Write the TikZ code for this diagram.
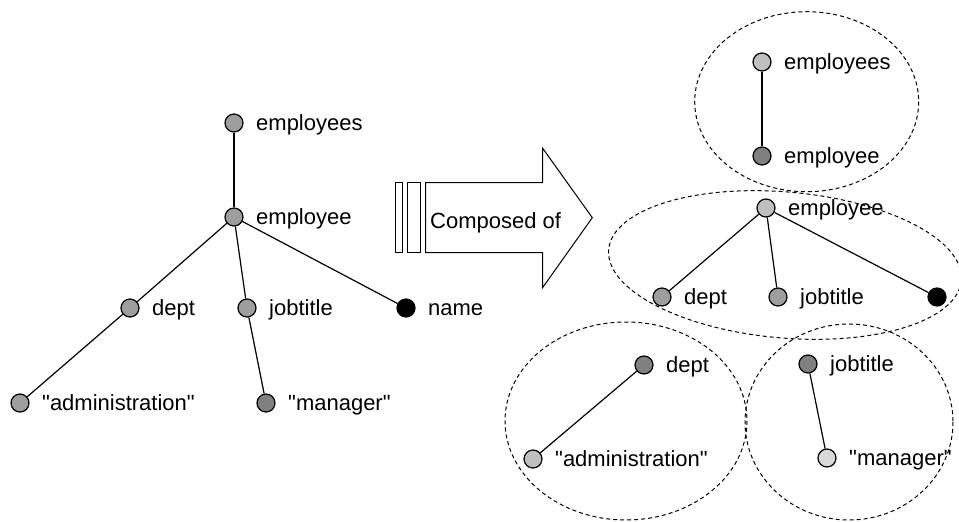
\documentclass[tikz,border=0pt]{standalone}
\usepackage{fontspec}
\setmainfont{Liberation Sans}
\newfontfamily\plainsans{Liberation Sans}
\definecolor{fA}{gray}{0.62}
\definecolor{fB}{gray}{0.50}
\definecolor{fC}{gray}{0.75}
\begin{document}
\begin{tikzpicture}[x=1pt,y=-1pt,
  dot/.style={circle,draw,line width=1.2pt,minimum size=18pt,inner sep=0pt},
  lab/.style={anchor=base west,inner sep=0pt,font=\fontsize{22}{26}\plainsans},
  link/.style={line width=1.2pt},
  grp/.style={dash pattern=on 4pt off 3pt,line width=1pt}]
\useasboundingbox (0,0) rectangle (959,522);

% ---------- left tree ----------
\node[dot,fill=fA] (lemps) at (234,123) {};
\node[dot,fill=fA] (lemp) at (234,217) {};
\node[dot,fill=fA] (ldept) at (130,308) {};
\node[dot,fill=fA] (ljob) at (247,308) {};
\node[dot,fill=black] (lname) at (406,308) {};
\node[dot,fill=fA] (ladm) at (20,403) {};
\node[dot,fill=fB] (lman) at (266,403) {};
\draw[link] (lemps) -- (lemp);
\draw[link] (lemp) -- (ldept);
\draw[link] (lemp) -- (ljob);
\draw[link] (lemp) -- (lname);
\draw[link] (ldept) -- (ladm);
\draw[link] (ljob) -- (lman);
\node[lab] (tlemps) at ([shift={(22,7)}]lemps.center) {employees};
\node[lab] (tlemp) at ([shift={(22,7)}]lemp.center) {employee};
\node[lab] (tldept) at ([shift={(22,7)}]ldept.center) {dept};
\node[lab] (tljob) at ([shift={(22,7)}]ljob.center) {jobtitle};
\node[lab] (tlname) at ([shift={(22,7)}]lname.center) {name};
\node[lab] (tladm) at ([shift={(22,7)}]ladm.center) {"administration"};
\node[lab] (tlman) at ([shift={(22,7)}]lman.center) {"manager"};

% ---------- arrow ----------
\draw[line width=1pt] (395.7,182.7) rectangle (402.3,252.7);
\draw[line width=1pt] (407.3,182.7) rectangle (420.7,252.7);
\draw[line width=1pt,line join=miter] (425.7,182.7) -- (542.7,182.7) -- (542.7,148.3)
  -- (592.3,217.7) -- (542.7,287.5) -- (542.7,252.7) -- (425.7,252.7) -- cycle;
\node[lab] (comp) at (430,228) {Composed of};

% ---------- groups ----------
\draw[grp] (806.7,101.7) ellipse [x radius=112, y radius=90];
\draw[grp,rotate around={-5:(785,265)}] (785,265) ellipse [x radius=177, y radius=73];
\draw[grp] (626,421) ellipse [x radius=121, y radius=99];
\draw[grp] (849,422) ellipse [x radius=104, y radius=98];

% ---------- right trees ----------
\node[dot,fill=fC] (remps) at (762,62) {};
\node[dot,fill=fB] (remp1) at (762,156) {};
\draw[link] (remps) -- (remp1);
\node[lab] (tremps) at ([shift={(22,7)}]remps.center) {employees};
\node[lab] (tremp1) at ([shift={(22,7)}]remp1.center) {employee};

\node[dot,fill=fC] (remp2) at (766,208) {};
\node[dot,fill=fA] (rdept) at (662,297) {};
\node[dot,fill=fA] (rjob) at (778,297) {};
\node[dot,fill=black] (rname) at (937,297) {};
\draw[link] (remp2) -- (rdept);
\draw[link] (remp2) -- (rjob);
\draw[link] (remp2) -- (rname);
\node[lab] (tremp2) at ([shift={(22,7)}]remp2.center) {employee};
\node[lab] (trdept) at ([shift={(22,7)}]rdept.center) {dept};
\node[lab] (trjob) at ([shift={(22,7)}]rjob.center) {jobtitle};

\node[dot,fill=fB] (bdept) at (644,365) {};
\node[dot,fill=fC] (badm) at (533,459) {};
\draw[link] (bdept) -- (badm);
\node[lab] (tbdept) at ([shift={(22,7)}]bdept.center) {dept};
\node[lab] (tbadm) at ([shift={(22,7)}]badm.center) {"administration"};

\node[dot,fill=fB] (bjob) at (808,364) {};
\node[dot,fill=fC!60!white] (bman) at (827,458) {};
\draw[link] (bjob) -- (bman);
\node[lab] (tbjob) at ([shift={(22,7)}]bjob.center) {jobtitle};
\node[lab] (tbman) at ([shift={(22,7)}]bman.center) {"manager"};
\end{tikzpicture}
\end{document}
